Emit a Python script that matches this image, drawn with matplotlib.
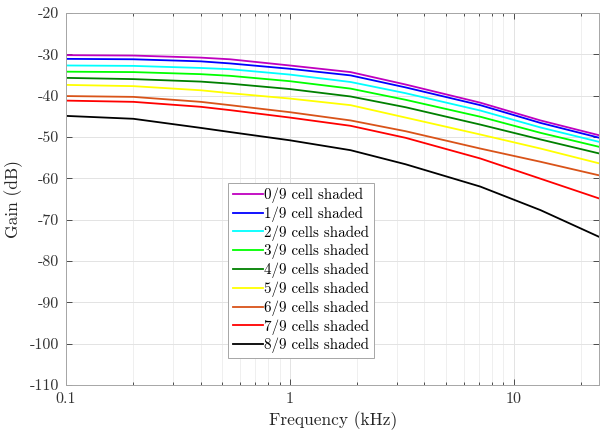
import matplotlib
matplotlib.use("Agg")
import matplotlib.pyplot as plt
from matplotlib.ticker import FixedLocator, LogLocator, NullFormatter

# Frequency points (kHz)
freq = [0.1, 0.2, 0.4, 0.54, 1.0, 1.87, 3.29, 7.1, 13.2, 24.2]

# Gain (dB) per shading level
gain_0 = [-30.2, -30.3, -30.8, -31.2, -32.7, -34.3, -37.3, -41.7, -46.0, -49.6]
gain_1 = [-31.1, -31.2, -31.7, -32.2, -33.5, -35.1, -38.0, -42.3, -46.6, -50.2]
gain_2 = [-32.7, -32.8, -33.3, -33.6, -34.9, -36.7, -39.4, -43.6, -47.7, -51.2]
gain_3 = [-34.2, -34.3, -34.8, -35.2, -36.5, -38.3, -41.0, -45.1, -49.0, -52.4]
gain_4 = [-35.7, -36.0, -36.6, -37.1, -38.4, -40.2, -42.8, -47.0, -50.6, -54.0]
gain_5 = [-37.4, -37.7, -38.7, -39.4, -40.7, -42.3, -45.3, -49.4, -52.8, -56.4]
gain_6 = [-40.1, -40.3, -41.5, -42.3, -44.0, -46.0, -48.6, -52.8, -56.0, -59.3]
gain_7 = [-41.2, -41.5, -42.7, -43.5, -45.3, -47.3, -50.2, -55.2, -60.1, -64.9]
gain_8 = [-44.9, -45.6, -47.8, -48.8, -50.8, -53.2, -56.6, -62.0, -67.7, -74.2]

labels = ["0/9 cell shaded", "1/9 cell shaded", "2/9 cells shaded",
          "3/9 cells shaded", "4/9 cells shaded", "5/9 cells shaded",
          "6/9 cells shaded", "7/9 cells shaded", "8/9 cells shaded"]
yticks = list(range(-110, -19, 10))

series = [gain_0, gain_1, gain_2, gain_3, gain_4, gain_5, gain_6, gain_7, gain_8]
colors = ["#bf00bf", "#0000ff", "#00ffff", "#00ff00", "#008000",
          "#ffff00", "#d95319", "#ff0000", "#000000"]

plt.rcParams["font.family"] = "cmr10"
plt.rcParams["axes.unicode_minus"] = False
plt.rcParams["mathtext.fontset"] = "cm"

fig = plt.figure(figsize=(6.0, 4.33), dpi=100)
ax = fig.add_axes([0.11, 0.111, 0.889, 0.859])

for g, c, lab in zip(series, colors, labels):
    ax.plot(freq, g, color=c, lw=1.3, label=lab)

ax.set_xscale("log")
ax.set_xlim(0.1, 24.2)
ax.set_ylim(-110, -20)
ax.yaxis.set_major_locator(FixedLocator(yticks))
ax.xaxis.set_major_locator(FixedLocator([0.1, 1, 10]))
ax.set_xticklabels(["0.1", "1", "10"])
ax.xaxis.set_minor_locator(LogLocator(base=10, subs=range(2, 10)))
ax.xaxis.set_minor_formatter(NullFormatter())

ax.grid(True, which="major", color="#e3e3e3", lw=0.7)
ax.grid(True, which="minor", axis="x", color="#ececec", lw=0.6)
ax.tick_params(which="both", direction="in", top=True, right=True,
               colors="#333333", labelsize=11.5, length=4, width=0.6, pad=5)
ax.tick_params(which="minor", length=2)
for s in ax.spines.values():
    s.set_color("#a6a6a6")
    s.set_linewidth(0.7)

ax.set_xlabel("Frequency (kHz)", fontsize=12.5, color="#262626")
ax.set_ylabel("Gain (dB)", fontsize=12.5, color="#262626", labelpad=5)

leg = ax.legend(loc="upper left", bbox_to_anchor=(228 / 600, 1 - 183 / 433),
                bbox_transform=fig.transFigure, borderaxespad=0,
                fontsize=10.8, handlelength=2.0, handletextpad=0.1,
                labelspacing=0.22, borderpad=0.3, fancybox=False,
                framealpha=1, edgecolor="#a6a6a6")
leg.get_frame().set_linewidth(0.7)

fig.savefig("out.png", dpi=100)
